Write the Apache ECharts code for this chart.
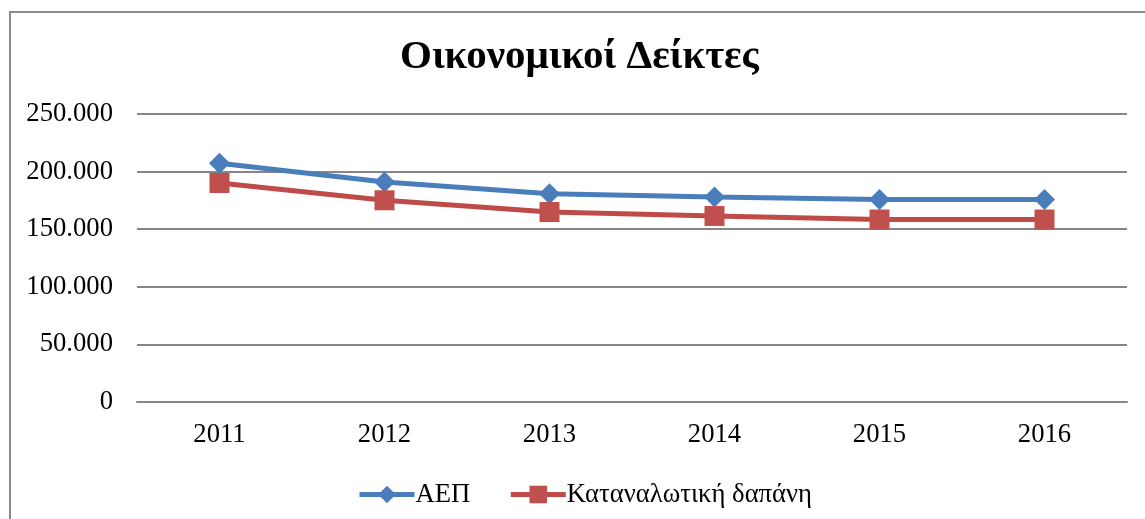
<!DOCTYPE html>
<html>
<head>
<meta charset="utf-8">
<script src="https://cdn.jsdelivr.net/npm/echarts@6/dist/echarts.min.js"></script>
<style>
  html, body { margin: 0; padding: 0; background: #fff; }
  #chart { width: 1145px; height: 519px; }
</style>
</head>
<body>
<div id="chart"></div>
<script>
const years = ["2011", "2012", "2013", "2014", "2015", "2016"];
const gdp = [207300, 191000, 180800, 178000, 175800, 175800];
const consumption = [190100, 175100, 164900, 161500, 158400, 158400];
const seriesNames = ["ΑΕΠ", "Καταναλωτική δαπάνη"];

const serif = "'Liberation Serif', 'DejaVu Serif', serif";

const chart = echarts.init(document.getElementById("chart"));

const option = {
  animation: false,
  backgroundColor: "#fff",
  title: {
    text: "Οικονομικοί Δείκτες",
    left: 400,
    top: 37,
    padding: 0,
    textStyle: { fontFamily: serif, fontSize: 41, fontWeight: "bold", color: "#000" }
  },
  graphic: [
    {
      type: "polyline",
      shape: { points: [[10, 519], [10, 12], [1145, 12]] },
      style: { stroke: "#8a8a8a", lineWidth: 2, fill: null }
    }
  ],
  legend: {
    data: seriesNames,
    left: 352,
    top: 476,
    itemWidth: 55,
    itemHeight: 22,
    itemGap: 38,
    lineStyle: { width: 5 },
    textStyle: { fontFamily: serif, fontSize: 26.67, color: "#000", padding: [0, 0, 0, -4] }
  },
  grid: { left: 137, right: 18, top: 114, bottom: 117 },
  xAxis: {
    type: "category",
    data: years,
    boundaryGap: true,
    axisLine: { lineStyle: { color: "#868686", width: 2 } },
    axisTick: { show: false },
    axisLabel: { fontFamily: serif, fontSize: 26.67, color: "#000", margin: 19 }
  },
  yAxis: {
    type: "value",
    min: 0,
    max: 250000,
    interval: 50000,
    axisLine: { show: false },
    axisTick: { show: false },
    splitLine: { lineStyle: { color: "#868686", width: 2 } },
    axisLabel: {
      fontFamily: serif,
      fontSize: 26.67,
      color: "#000",
      margin: 24,
      formatter: v => String(v).replace(/\B(?=(\d{3})+(?!\d))/g, ".")
    }
  },
  series: [
    {
      name: seriesNames[0],
      type: "line",
      data: gdp,
      symbol: "diamond",
      symbolSize: 21,
      lineStyle: { color: "#4a7ebb", width: 5 },
      itemStyle: { color: "#4a7ebb" }
    },
    {
      name: seriesNames[1],
      type: "line",
      data: consumption,
      symbol: "rect",
      symbolSize: 20,
      lineStyle: { color: "#be4b48", width: 5 },
      itemStyle: { color: "#c0504d" }
    }
  ]
};

chart.setOption(option);
</script>
</body>
</html>
